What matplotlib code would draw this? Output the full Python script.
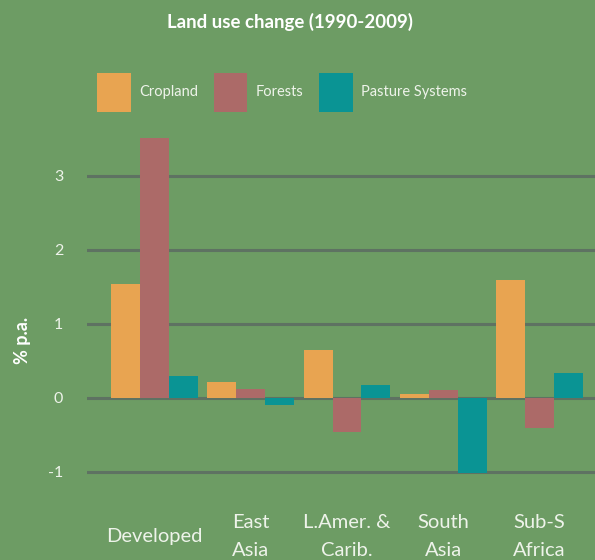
import matplotlib.pyplot as plt
import numpy as np

regions = ['Developed', 'East\nAsia', 'L.Amer. &\nCarib.', 'South\nAsia', 'Sub-S\nAfrica']
cropland = [1.54, 0.21, 0.64, 0.05, 1.59]
forests = [3.51, 0.125, -0.46, 0.11, -0.41]
pasture = [0.30, -0.10, 0.17, -1.02, 0.34]
series_names = ['Cropland', 'Forests', 'Pasture Systems']
colors = ['#e8a451', '#ac6a68', '#0a9494']
yticks = [-1, 0, 1, 2, 3]

bg = '#6d9c64'
txt = '#eef3ea'
plt.rcParams['font.family'] = ['Lato', 'DejaVu Sans']

fig = plt.figure(figsize=(5.95, 5.6), dpi=100, facecolor=bg)
ax = fig.add_axes([0.146, 0.111, 0.854, 0.655])
ax.set_facecolor(bg)

x = np.arange(len(regions))
w = 0.3
handles = []
for i, (vals, name) in enumerate(zip([cropland, forests, pasture], series_names)):
    b = ax.bar(x + (i - 1) * w, vals, w, color=colors[i], label=name, zorder=3)
    handles.append(b)

ax.set_xlim(-0.7, 4.575)
ax.set_ylim(-1.35, 3.6)
ax.set_yticks(yticks)
ax.set_yticklabels([str(t) for t in yticks])
ax.grid(axis='y', color='#5e7262', linewidth=2.2, zorder=1)
ax.set_axisbelow(True)
for s in ax.spines.values():
    s.set_visible(False)
ax.tick_params(axis='both', length=0)
ax.tick_params(axis='y', pad=17, labelsize=11.5, labelcolor=txt)
ax.set_xticks(x)
ax.set_xticklabels(regions, fontsize=14.5, color=txt, va='center', linespacing=1.75)
ax.tick_params(axis='x', pad=28)

ax.set_ylabel('% p.a.', fontsize=13, fontweight='bold', color='white')
ax.yaxis.set_label_coords(-0.11, 0.43)

fig.text(0.487, 0.961, 'Land use change (1990-2009)', ha='center', va='center',
         fontsize=13.4, fontweight='bold', color='white')

fig.legend(handles=handles, loc='center', bbox_to_anchor=(0.474, 0.835), ncol=3,
           frameon=False, fontsize=10.5, labelcolor=txt,
           handlelength=2.3, handleheight=3.7, handletextpad=0.55,
           columnspacing=1.1)

fig.savefig('out.png', dpi=100, facecolor=bg)
